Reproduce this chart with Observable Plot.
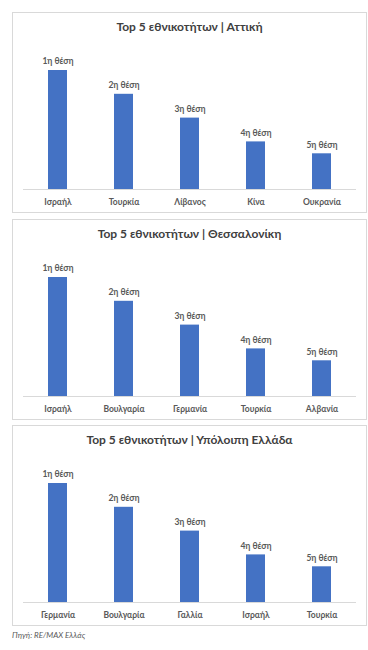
<!DOCTYPE html>
<html>
<head>
<meta charset="utf-8">
<script src="https://cdn.jsdelivr.net/npm/d3@7"></script>
<script src="https://cdn.jsdelivr.net/npm/@observablehq/plot@0.6"></script>
<style>
  html, body { margin: 0; padding: 0; background: #ffffff; }
  body { width: 368px; height: 650px; position: relative; font-family: Lato, "Open Sans", "Noto Sans", sans-serif; }
  .panel { position: absolute; left: 12px; width: 353px; border: 1px solid #d9d9d9; background: #fff; }
  .title { height: 28px; line-height: 28px; text-align: center; font-weight: bold; font-size: 12px; color: #404040; }
  .panel svg { display: block; }
  .source { position: absolute; left: 12px; top: 629px; font-size: 8px; font-style: italic; color: #595959; line-height: 12px; }
</style>
</head>
<body>
<div id="root"></div>
<div class="source">Πηγή: RE/MAX Ελλάς</div>
<script>
const titles = [
  "Top 5 εθνικοτήτων | Αττική",
  "Top 5 εθνικοτήτων | Θεσσαλονίκη",
  "Top 5 εθνικοτήτων | Υπόλοιπη Ελλάδα"
];
const rankLabels = ["1η θέση", "2η θέση", "3η θέση", "4η θέση", "5η θέση"];
const rankValues = [5, 4, 3, 2, 1.5];
const atticaCountries = ["Ισραήλ", "Τουρκία", "Λίβανος", "Κίνα", "Ουκρανία"];
const thessalonikiCountries = ["Ισραήλ", "Βουλγαρία", "Γερμανία", "Τουρκία", "Αλβανία"];
const restCountries = ["Γερμανία", "Βουλγαρία", "Γαλλία", "Ισραήλ", "Τουρκία"];

const countryLists = [atticaCountries, thessalonikiCountries, restCountries];
const panelTops = [12, 219, 425];

const root = document.getElementById("root");
countryLists.forEach((countries, i) => {
  const data = countries.map((c, j) => ({country: c, value: rankValues[j], rank: rankLabels[j]}));
  const panel = document.createElement("div");
  panel.className = "panel";
  panel.style.top = panelTops[i] + "px";
  const t = document.createElement("div");
  t.className = "title";
  t.textContent = titles[i];
  panel.appendChild(t);
  const chart = Plot.plot({
    width: 353,
    height: 171,
    marginLeft: 10,
    marginRight: 10,
    marginTop: 29,
    marginBottom: 23,
    style: {fontFamily: "Lato, 'Open Sans', 'Noto Sans', sans-serif", fontSize: "8.5px", color: "#595959", background: "#fff"},
    x: {domain: countries, paddingInner: 0.715, paddingOuter: 0.3575, axis: null},
    y: {domain: [0, 5], axis: null},
    marks: [
      Plot.ruleY([0], {stroke: "#d9d9d9"}),
      Plot.barY(data, {x: "country", y: "value", fill: "#4472C4"}),
      Plot.text(data, {x: "country", y: "value", text: "rank", dy: -9, fill: "#595959", fontWeight: "bold"}),
      Plot.axisX({tickSize: 0, tickPadding: 9, fontWeight: "bold", label: null})
    ]
  });
  panel.appendChild(chart);
  root.appendChild(panel);
});
</script>
</body>
</html>
